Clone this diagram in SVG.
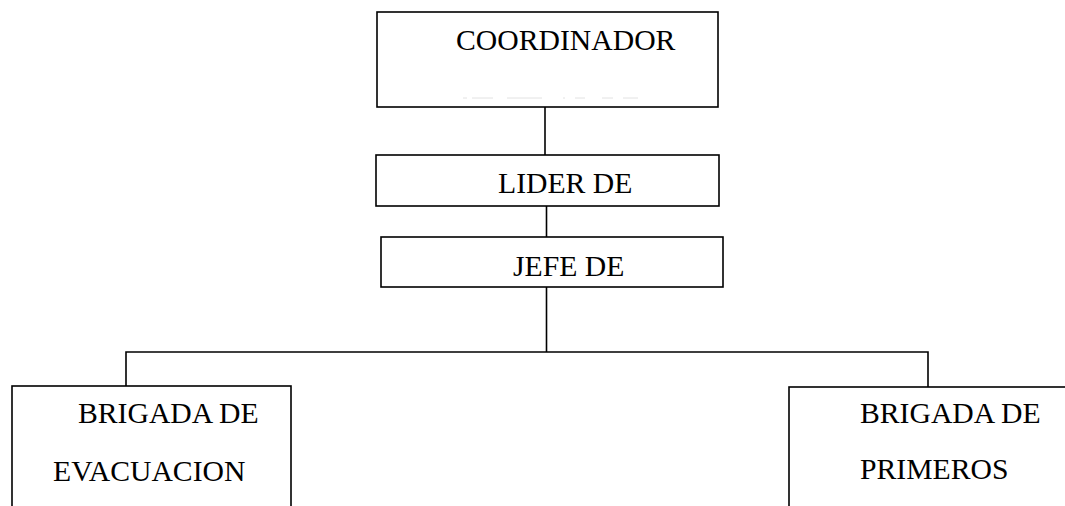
<svg xmlns="http://www.w3.org/2000/svg" width="1065" height="506" viewBox="0 0 1065 506">
<style>
.box{fill:#fff;stroke:#000;stroke-width:1.6}
.lbl{font-family:"Liberation Serif","Times New Roman",serif;font-size:29.7px;fill:#000}
.con{fill:none;stroke:#000;stroke-width:1.6}
</style>
<rect width="1065" height="506" fill="#fff"/>
<g id="connectors">
<line class="con" x1="545" y1="107" x2="545" y2="155"/>
<line class="con" x1="546.5" y1="206" x2="546.5" y2="237"/>
<line class="con" x1="546.5" y1="287" x2="546.5" y2="352"/>
<polyline class="con" points="126,386 126,352 928,352 928,387"/>
</g>
<g id="coordinador">
<rect class="box" x="377" y="12" width="341" height="95"/>
<text class="lbl" x="456" y="50">COORDINADOR</text>
<path d="M463 98h4M472 98h21M507 98h35M563 98h2M575 98h10M602 98h11M623 98h15" stroke="#e2e2e2" stroke-width="1" fill="none"/>
</g>
<g id="lider">
<rect class="box" x="376" y="155" width="343" height="51"/>
<text class="lbl" x="498" y="193">LIDER DE</text>
</g>
<g id="jefe">
<rect class="box" x="381" y="237" width="342" height="50"/>
<text class="lbl" x="513" y="276">JEFE DE</text>
</g>
<g id="brigada-evacuacion">
<rect class="box" x="12" y="386" width="279" height="140"/>
<text class="lbl" x="78" y="423">BRIGADA DE</text>
<text class="lbl" x="53" y="481">EVACUACION</text>
</g>
<g id="brigada-primeros">
<rect class="box" x="789" y="387" width="300" height="140"/>
<text class="lbl" x="860" y="423">BRIGADA DE</text>
<text class="lbl" x="860" y="479">PRIMEROS</text>
</g>
</svg>
